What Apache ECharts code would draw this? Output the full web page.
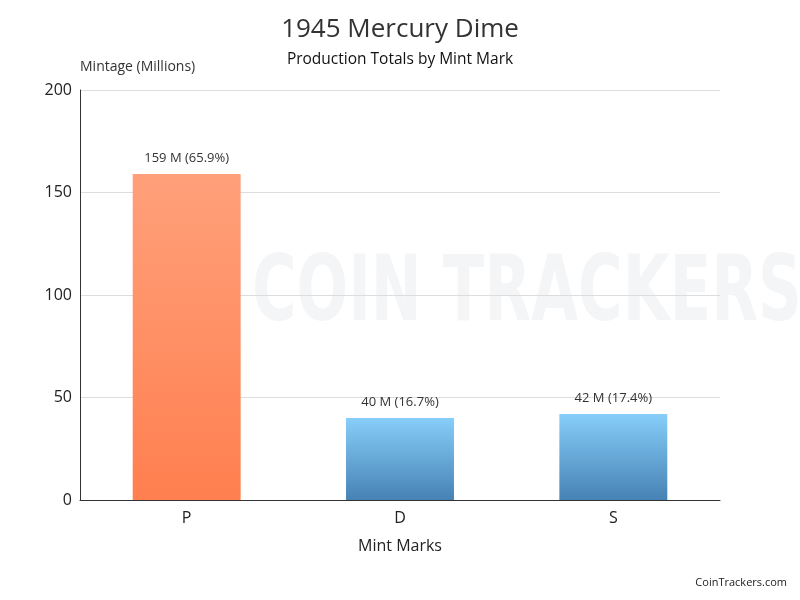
<!DOCTYPE html>
<html><head><meta charset="utf-8">
<script src="https://cdn.jsdelivr.net/npm/echarts@6/dist/echarts.min.js"></script>
<style>html,body{margin:0;padding:0;background:#fff}#c{width:800px;height:600px}</style>
</head><body><div id="c"></div>
<script>
const categories = ['P', 'D', 'S'];
const values = [159, 40, 42];
const labels = ['159 M (65.9%)', '40 M (16.7%)', '42 M (17.4%)'];
const yTicks = [0, 50, 100, 150, 200];

const FONT = '"Open Sans", "Noto Sans", sans-serif';
const orange = new echarts.graphic.LinearGradient(0, 0, 0, 1, [{offset: 0, color: '#FFA07A'}, {offset: 1, color: '#FF7F50'}]);
const blue = new echarts.graphic.LinearGradient(0, 0, 0, 1, [{offset: 0, color: '#87CEFA'}, {offset: 1, color: '#4682B4'}]);
const colors = [orange, blue, blue];

const chart = echarts.init(document.getElementById('c'), null, {renderer: 'canvas'});
chart.setOption({
  backgroundColor: '#fff',
  animation: false,
  textStyle: {fontFamily: FONT},
  title: [
    {text: '1945 Mercury Dime', left: 'center', top: 12, textStyle: {fontSize: 26, fontWeight: 'normal', color: '#333', fontFamily: FONT}},
    {text: 'Production Totals by Mint Mark', left: 'center', top: 47, textStyle: {fontSize: 15.5, fontWeight: 500, color: '#111', fontFamily: FONT}},
    {text: 'CoinTrackers.com', right: 8, bottom: 7, textStyle: {fontSize: 11, fontWeight: 'normal', color: '#222', fontFamily: FONT}}
  ],
  graphic: [
    {type: 'text', x: 252, y: 252, scaleX: 0.675, silent: true, z: -1,
     style: {text: 'COIN TRACKERS', fontSize: 90, fontWeight: 'bold', fill: 'rgba(200,205,215,0.2)', fontFamily: '"DejaVu Sans", sans-serif'}}
  ],
  grid: {left: 80, right: 80, top: 90, bottom: 100},
  xAxis: {
    type: 'category', data: categories,
    name: 'Mint Marks', nameLocation: 'middle', nameGap: 38,
    nameTextStyle: {fontSize: 16, color: '#222', fontFamily: FONT},
    axisLine: {lineStyle: {color: '#333', width: 1}},
    axisTick: {show: false},
    axisLabel: {fontSize: 16, color: '#222', margin: 10, fontFamily: FONT}
  },
  yAxis: {
    type: 'value', min: 0, max: 200, interval: 50,
    name: 'Mintage (Millions)', nameLocation: 'end', nameGap: 16,
    nameTextStyle: {fontSize: 14, color: '#333', align: 'left', padding: [0, 0, 0, 0], fontFamily: FONT},
    axisLine: {show: true, lineStyle: {color: '#333', width: 1}},
    axisTick: {show: false},
    axisLabel: {fontSize: 16, color: '#222', margin: 8, fontFamily: FONT},
    splitLine: {lineStyle: {color: '#ddd'}}
  },
  series: [{
    type: 'bar', barWidth: '50.6%',
    data: values.map((v, i) => ({value: v, itemStyle: {color: colors[i]}, label: {formatter: labels[i]}})),
    label: {show: true, position: 'top', distance: 9, fontSize: 13, color: '#333', fontFamily: FONT}
  }]
});
</script></body></html>
